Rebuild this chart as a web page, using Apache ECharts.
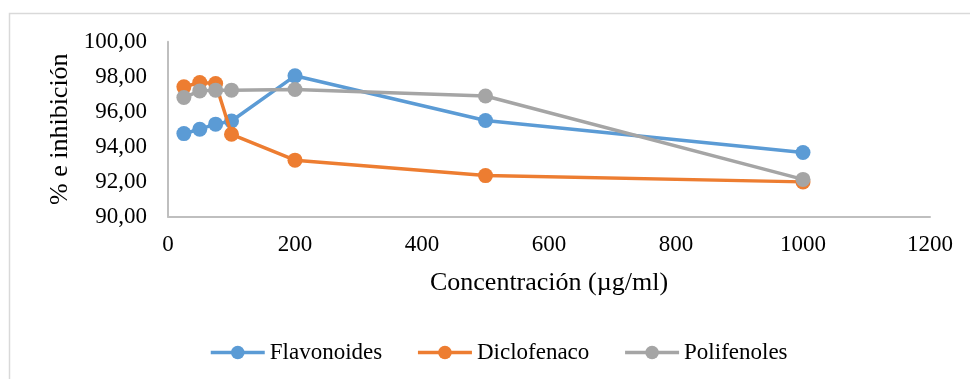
<!DOCTYPE html>
<html>
<head>
<meta charset="utf-8">
<script src="https://cdn.jsdelivr.net/npm/echarts@6/dist/echarts.min.js"></script>
<style>
  html, body { margin: 0; padding: 0; background: #fff; }
  #chart { width: 970px; height: 379px; }
</style>
</head>
<body>
<div id="chart"></div>
<script>
// Concentrations tested (µg/ml)
const concentraciones = [25, 50, 75, 100, 200, 500, 1000];

// % inhibition per extract / reference drug
const flavonoides = [94.75, 95.00, 95.29, 95.47, 98.05, 95.50, 93.67];
const diclofenaco = [97.42, 97.67, 97.61, 94.71, 93.23, 92.35, 91.99];
const polifenoles = [96.81, 97.19, 97.23, 97.23, 97.27, 96.90, 92.13];

const seriesNames = ['Flavonoides', 'Diclofenaco', 'Polifenoles'];
const seriesColors = ['#5B9BD5', '#ED7D31', '#A5A5A5'];

const xAxisTitle = 'Concentración (µg/ml)';
const yAxisTitle = '% e inhibición';

const FONT = '"Liberation Serif", "Times New Roman", serif';

function pairs(values) {
  return concentraciones.map((c, i) => [c, values[i]]);
}

const chart = echarts.init(document.getElementById('chart'), null, { renderer: 'canvas' });

const seriesData = [flavonoides, diclofenaco, polifenoles];

chart.setOption({
  animation: false,
  backgroundColor: '#ffffff',
  color: seriesColors,
  graphic: [{
    type: 'rect',
    shape: { x: 9.5, y: 13.5, width: 1000, height: 400 },
    style: { fill: 'none', stroke: '#d9d9d9', lineWidth: 1.5 },
    silent: true
  }],
  grid: { left: 168, right: 40, top: 41.7, bottom: 162.3, containLabel: false },
  legend: {
    data: seriesNames,
    top: 336,
    left: 204,
    itemWidth: 54,
    itemHeight: 17,
    itemGap: 34,
    lineStyle: { width: 3.5 },
    textStyle: { fontFamily: FONT, fontSize: 23, color: '#000' }
  },
  xAxis: {
    type: 'value',
    min: 0,
    max: 1200,
    interval: 200,
    name: xAxisTitle,
    nameLocation: 'middle',
    nameGap: 53,
    nameTextStyle: { fontFamily: FONT, fontSize: 26, color: '#000' },
    axisLine: { show: true, lineStyle: { color: '#bfbfbf', width: 2 } },
    axisTick: { show: false },
    splitLine: { show: false },
    axisLabel: {
      fontFamily: FONT, fontSize: 23, color: '#000', margin: 17,
      formatter: v => String(v)
    }
  },
  yAxis: {
    type: 'value',
    min: 90,
    max: 100,
    interval: 2,
    name: yAxisTitle,
    nameLocation: 'middle',
    nameGap: 93,
    nameRotate: 90,
    nameTextStyle: { fontFamily: FONT, fontSize: 26, color: '#000' },
    axisLine: { show: true, lineStyle: { color: '#bfbfbf', width: 2 } },
    axisTick: { show: false },
    splitLine: { show: false },
    axisLabel: {
      fontFamily: FONT, fontSize: 23, color: '#000', margin: 21,
      formatter: v => v.toFixed(2).replace('.', ',')
    }
  },
  series: seriesNames.map((name, i) => ({
    name: name,
    type: 'line',
    data: pairs(seriesData[i]),
    symbol: 'circle',
    symbolSize: 15,
    showSymbol: true,
    lineStyle: { width: 3.5, color: seriesColors[i] },
    itemStyle: { color: seriesColors[i] },
    z: 2 + i
  }))
});
</script>
</body>
</html>
